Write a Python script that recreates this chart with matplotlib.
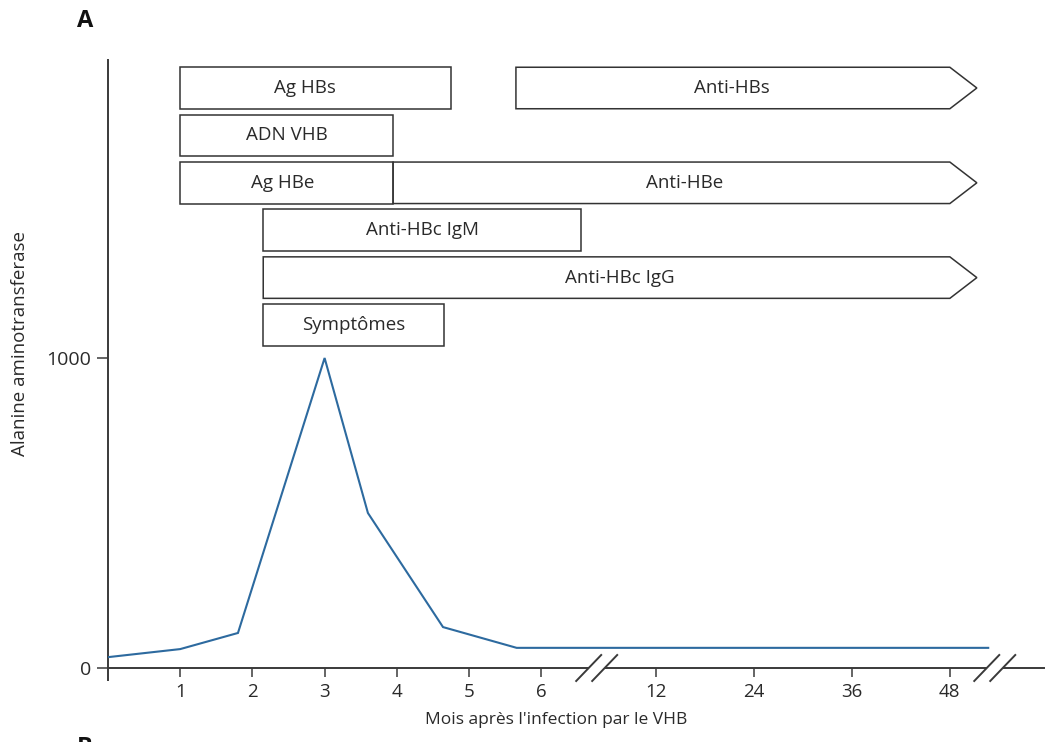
import numpy as np
import matplotlib
matplotlib.use("Agg")
import matplotlib.pyplot as plt
from matplotlib.patches import Polygon

plt.rcParams['font.family'] = ['Open Sans', 'DejaVu Sans']

# ---------------- data ----------------
# ALT curve (months after infection, ALT value)
alt_months = [0, 1, 1.8, 3, 3.6, 4.64, 5.66, 52.7]
alt_values = [35, 61, 113, 1000, 500, 132, 65, 65]

# serological markers: label, start month, end month, row, continues (arrow)
marker_labels = ["Ag HBs", "Anti-HBs", "ADN VHB", "Ag HBe", "Anti-HBe",
                 "Anti-HBc IgM", "Anti-HBc IgG", "Symptômes"]
marker_start = [1, 5.65, 1, 1, 3.95, 2.15, 2.15, 2.15]
marker_end = [4.75, 48, 3.95, 3.95, 48, 8.1, 48, 4.65]
marker_row = [0, 0, 1, 2, 2, 3, 4, 5]
marker_arrow = [False, True, False, False, True, False, True, False]

tick_months = [1, 2, 3, 4, 5, 6, 12, 24, 36, 48]
tick_labels = ["1", "2", "3", "4", "5", "6", "12", "24", "36", "48"]
ytick_values = [0, 1000]
ytick_labels = ["0", "1000"]

# broken time axis: months -> axis position
knot_months = [0, 6, 12, 48, 70]
knot_pos = [0, 6, 7.59, 11.66, 11.66 + 22 * (11.66 - 7.59) / 36]


def pos(m):
    return np.interp(m, knot_months, knot_pos)


# ---------------- figure ----------------
W, H = 1064, 742
fig = plt.figure(figsize=(W / 100, H / 100), dpi=100)
ax_l, ax_r, ax_t, ax_b = 108, 1044, 60, 668
ax = fig.add_axes([ax_l / W, 1 - ax_b / H, (ax_r - ax_l) / W, (ax_b - ax_t) / H])
px_per_x = 72.2
px_per_y = 0.31
xmax = (ax_r - ax_l) / px_per_x
ymax = (ax_b - ax_t) / px_per_y
ax.set_xlim(0, xmax)
ax.set_ylim(0, ymax)
dx = 1 / px_per_x  # one pixel in x data units
dy = 1 / px_per_y  # one pixel in y data units

axis_col = "#3a3a3a"
text_col = "#2a2a2a"

for s in ["top", "right"]:
    ax.spines[s].set_visible(False)
for s in ["left", "bottom"]:
    ax.spines[s].set_color(axis_col)
    ax.spines[s].set_linewidth(1.4)

ax.set_xticks(pos(np.array(tick_months)))
ax.set_xticklabels(tick_labels)
ax.set_xticks([0], minor=True)
ax.tick_params(axis='x', which='major', direction='out', length=6.5, width=1.1,
               color=axis_col, labelsize=13.5, labelcolor=text_col, pad=4)
ax.tick_params(axis='x', which='minor', direction='out', length=9.5, width=1.4,
               color=axis_col)
ax.set_yticks(ytick_values)
ax.set_yticklabels(ytick_labels)
ax.tick_params(axis='y', direction='out', length=8, width=1.1, color=axis_col,
               labelsize=14, labelcolor=text_col, pad=4)

# ALT curve
ax.plot(pos(np.array(alt_months)), alt_values, color="#2d6a9f", lw=1.5,
        solid_joinstyle='miter', zorder=3)

# marker boxes
row_top_px = 88
row_pitch_px = 47.4
box_h_px = 41.5
tip_px = 27
label_shift_px = [-11, -15, 0, -4, 0, 0, 0, 0]
for lab, s, e, r, arr, sh in zip(marker_labels, marker_start, marker_end,
                                 marker_row, marker_arrow, label_shift_px):
    yc = (ax_b - (row_top_px + r * row_pitch_px)) * dy
    y0 = yc - box_h_px / 2 * dy
    y1 = yc + box_h_px / 2 * dy
    x0, x1 = pos(s), pos(e)
    if arr:
        xt = x1 + tip_px * dx
        verts = [(x0, y0), (x1, y0), (xt, yc), (x1, y1), (x0, y1)]
        xc = (x0 + xt) / 2
    else:
        verts = [(x0, y0), (x1, y0), (x1, y1), (x0, y1)]
        xc = (x0 + x1) / 2
    ax.add_patch(Polygon(verts, closed=True, facecolor="white",
                         edgecolor="#333333", lw=1.1, joinstyle='miter',
                         zorder=4))
    ax.text(xc + sh * dx, yc, lab, ha='center', va='center', fontsize=13.5,
            color=text_col, zorder=5)

# axis breaks
for bm in [8.9, 53.5]:
    bx = pos(bm)
    ax.fill_between([bx - 8 * dx, bx + 8 * dx], -3 * dy, 3 * dy,
                    color="white", zorder=5, clip_on=False, lw=0)
    for off in (-8, 8):
        cx = bx + off * dx
        ax.plot([cx - 12.5 * dx, cx + 12.5 * dx], [-13 * dy, 13 * dy],
                color=axis_col, lw=1.4, clip_on=False, zorder=6)

# labels
fig.text(556 / W, 1 - 720 / H, "Mois après l'infection par le VHB",
         ha='center', va='center', fontsize=12.5, color=text_col)
fig.text(20 / W, 1 - 343 / H, "Alanine aminotransferase", rotation=90,
         ha='center', va='center', fontsize=13.5, color=text_col)
fig.text(85 / W, 1 - 21 / H, "A", ha='center', va='center', fontsize=17,
         fontweight='bold', color="#111111")
fig.text(85 / W, 1 - 748 / H, "B", ha='center', va='center', fontsize=17,
         fontweight='bold', color="#111111")

fig.savefig("out.png", dpi=100)
